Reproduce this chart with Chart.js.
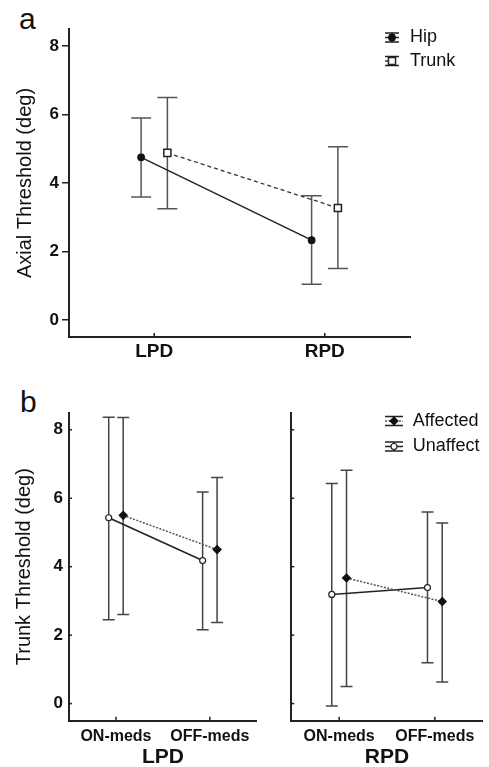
<!DOCTYPE html>
<html>
<head>
<meta charset="utf-8">
<script src="https://cdn.jsdelivr.net/npm/chart.js@4.4.1/dist/chart.umd.min.js"></script>
<style>
    html, body {
        margin: 0;
        padding: 0;
        background: #fff;
        overflow: hidden;
    }

    body {
        width: 489px;
        height: 767px;
        position: relative;
        font-family: "Liberation Sans", Arial, sans-serif;
    }

    canvas {
        position: absolute;
    }

    .letraPainel {
        position: absolute;
        font: 30px "Liberation Sans", Arial, sans-serif;
        line-height: 1;
        color: #111;
    }
</style>
</head>
<body>

<div class="letraPainel" style="left:19px; top:4px;">a</div>
<div class="letraPainel" style="left:20px; top:387px;">b</div>

<canvas id="graficoAxial" width="489" height="370" style="left:0; top:0;"></canvas>
<canvas id="graficoLPD" width="262" height="400" style="left:0; top:370px;"></canvas>
<canvas id="graficoRPD" width="227" height="400" style="left:262px; top:370px;"></canvas>

<script>
/* ==========================================================================
   Limiares axiais (a) e de tronco por medicação (b)
   ========================================================================== */

// --- dados -----------------------------------------------------------------

const grupos = ["LPD", "RPD"];
const estadosMedicacao = ["ON-meds", "OFF-meds"];
const ticksY = [0, 2, 4, 6, 8];

// painel a
const hipMedia = [4.75, 2.33];
const hipInferior = [3.59, 1.04];
const hipSuperior = [5.90, 3.63];

const trunkMedia = [4.88, 3.27];
const trunkInferior = [3.25, 1.50];
const trunkSuperior = [6.50, 5.06];

// painel b - LPD
const lpdAfetadoMedia = [5.50, 4.50];
const lpdAfetadoInferior = [2.60, 2.37];
const lpdAfetadoSuperior = [8.36, 6.61];

const lpdNaoAfetadoMedia = [5.43, 4.18];
const lpdNaoAfetadoInferior = [2.45, 2.16];
const lpdNaoAfetadoSuperior = [8.37, 6.18];

// painel b - RPD
const rpdAfetadoMedia = [3.67, 2.98];
const rpdAfetadoInferior = [0.50, 0.63];
const rpdAfetadoSuperior = [6.82, 5.28];

const rpdNaoAfetadoMedia = [3.19, 3.39];
const rpdNaoAfetadoInferior = [-0.07, 1.19];
const rpdNaoAfetadoSuperior = [6.43, 5.60];

// --- estilo ----------------------------------------------------------------

const FONTE = "'Liberation Sans', Arial, sans-serif";
const COR_TEXTO = "#111";
const COR_EIXO = "#222";
const DESLOCAMENTO = 0.077;

Chart.defaults.font.family = FONTE;
Chart.defaults.color = COR_TEXTO;

// --- plugins ---------------------------------------------------------------

const pluginBarrasErro = {
    id: "barrasErro",
    beforeDatasetsDraw(chart) {
        const ctx = chart.ctx;
        const escalaX = chart.scales.x;
        const escalaY = chart.scales.y;

        chart.data.datasets.forEach(ds => {
            if (!ds.erroInferior) return;

            const meia = ds.larguraCap / 2;

            ctx.save();
            ctx.strokeStyle = ds.corErro;
            ctx.lineWidth = 1.5;

            ds.data.forEach((p, j) => {
                const px = escalaX.getPixelForValue(p.x);
                const yi = escalaY.getPixelForValue(ds.erroInferior[j]);
                const ys = escalaY.getPixelForValue(ds.erroSuperior[j]);

                ctx.beginPath();
                ctx.moveTo(px, yi);
                ctx.lineTo(px, ys);
                ctx.moveTo(px - meia, yi);
                ctx.lineTo(px + meia, yi);
                ctx.moveTo(px - meia, ys);
                ctx.lineTo(px + meia, ys);
                ctx.stroke();
            });

            ctx.restore();
        });
    }
};

const pluginTicksInternos = {
    id: "ticksInternos",
    afterDraw(chart, args, opts) {
        const ctx = chart.ctx;
        const area = chart.chartArea;

        ctx.save();
        ctx.strokeStyle = COR_EIXO;
        ctx.lineWidth = 1.5;

        if (opts.x) {
            chart.scales.x.ticks.forEach(t => {
                const px = chart.scales.x.getPixelForValue(t.value);
                ctx.beginPath();
                ctx.moveTo(px, area.bottom);
                ctx.lineTo(px, area.bottom - opts.x);
                ctx.stroke();
            });
        }

        if (opts.y) {
            chart.scales.y.ticks.forEach(t => {
                const py = chart.scales.y.getPixelForValue(t.value);
                ctx.beginPath();
                ctx.moveTo(area.left, py);
                ctx.lineTo(area.left + opts.y, py);
                ctx.stroke();
            });
        }

        ctx.restore();
    }
};

const pluginLegendaErro = {
    id: "legendaErro",
    afterDraw(chart, args, opts) {
        if (!opts.linhas) return;

        const ctx = chart.ctx;
        const x0 = opts.xSimbolo;
        const x1 = opts.xSimbolo + opts.larguraSimbolo;
        const cx = (x0 + x1) / 2;
        const h = opts.meiaAltura;

        chart.data.datasets.forEach((ds, i) => {
            const y = opts.linhas[i];

            ctx.save();
            ctx.strokeStyle = COR_EIXO;
            ctx.lineWidth = 1.5;

            ctx.beginPath();
            ctx.moveTo(x0, y - h);
            ctx.lineTo(x1, y - h);
            ctx.moveTo(x0, y + h);
            ctx.lineTo(x1, y + h);
            ctx.moveTo(cx, y - h);
            ctx.lineTo(cx, y + h);
            ctx.stroke();

            ctx.setLineDash(ds.borderDash || []);
            ctx.strokeStyle = ds.borderColor;
            ctx.beginPath();
            ctx.moveTo(x0, y);
            ctx.lineTo(x1, y);
            ctx.stroke();
            ctx.setLineDash([]);

            ctx.fillStyle = ds.pointBackgroundColor;
            ctx.strokeStyle = ds.pointBorderColor;
            ctx.lineWidth = ds.pointBorderWidth;
            Chart.helpers.drawPoint(ctx, {
                pointStyle: ds.pointStyle,
                radius: ds.pointRadius,
                rotation: 0,
                borderWidth: ds.pointBorderWidth
            }, cx, y);

            ctx.fillStyle = COR_TEXTO;
            ctx.font = "18px " + FONTE;
            ctx.textAlign = "left";
            ctx.textBaseline = "middle";
            ctx.fillText(ds.label, opts.xTexto, y);

            ctx.restore();
        });
    }
};

// --- montagem --------------------------------------------------------------

function montarSerie(rotulo, categorias, medias, inferior, superior, desloc, estilo) {
    return Object.assign({
        label: rotulo,
        data: categorias.map((_, i) => ({ x: i + desloc, y: medias[i] })),
        erroInferior: inferior,
        erroSuperior: superior,
        borderWidth: 1.5,
        pointBorderWidth: 1.2,
        pointHoverRadius: 0,
        fill: false,
        tension: 0,
        clip: false
    }, estilo);
}

function escalaX(categorias, altura, fonteTick, padTick, titulo) {
    return {
        type: "linear",
        min: -0.5,
        max: 1.5,
        afterBuildTicks: s => {
            s.ticks = categorias.map((_, i) => ({ value: i }));
        },
        afterFit: s => {
            s.height = altura;
        },
        grid: { display: false, drawTicks: false },
        border: { display: true, color: COR_EIXO, width: 2 },
        ticks: {
            callback: v => categorias[v] ?? "",
            font: fonteTick,
            color: COR_TEXTO,
            padding: padTick,
            autoSkip: false,
            maxRotation: 0
        },
        title: titulo
            ? {
                display: true,
                text: titulo,
                font: { size: 21, weight: "bold", lineHeight: 1.2 },
                color: COR_TEXTO,
                padding: { top: 0, bottom: 0 }
            }
            : { display: false }
    };
}

function escalaY(largura, opcoes) {
    return Object.assign({
        min: -0.5,
        max: 8.5,
        afterBuildTicks: s => {
            s.ticks = ticksY.map(v => ({ value: v }));
        },
        afterFit: s => {
            s.width = largura;
        },
        border: { display: true, color: COR_EIXO, width: 2 }
    }, opcoes);
}

function criarGrafico(canvasId, datasets, padding, scales, plugins) {
    const canvas = document.getElementById(canvasId);
    if (!canvas) return;

    return new Chart(canvas, {
        type: "line",
        data: { datasets },
        options: {
            responsive: false,
            animation: false,
            events: [],
            layout: { padding },
            plugins: Object.assign({
                legend: { display: false },
                tooltip: { enabled: false }
            }, plugins),
            scales
        },
        plugins: [pluginBarrasErro, pluginTicksInternos, pluginLegendaErro]
    });
}

// painel a
criarGrafico("graficoAxial", [
    montarSerie("Hip", grupos, hipMedia, hipInferior, hipSuperior, -DESLOCAMENTO, {
        borderColor: "#222",
        pointStyle: "circle",
        pointRadius: 3.3,
        pointBackgroundColor: "#111",
        pointBorderColor: "#111",
        larguraCap: 20,
        corErro: "#555"
    }),
    montarSerie("Trunk", grupos, trunkMedia, trunkInferior, trunkSuperior, DESLOCAMENTO, {
        borderColor: "#333",
        borderDash: [4, 3],
        borderWidth: 1.3,
        pointStyle: "rect",
        pointRadius: 5,
        pointBackgroundColor: "#fff",
        pointBorderColor: "#222",
        pointBorderWidth: 1.5,
        larguraCap: 20,
        corErro: "#555"
    })
], { left: 0, top: 29, right: 79, bottom: 0 }, {
    x: escalaX(grupos, 33, { size: 19, weight: "bold" }, 3, null),
    y: escalaY(69, {
        grid: {
            display: true,
            drawOnChartArea: false,
            drawTicks: true,
            tickLength: 7,
            color: COR_EIXO,
            lineWidth: 1.5
        },
        ticks: { font: { size: 17, weight: "bold" }, color: COR_TEXTO, padding: 3 },
        title: {
            display: true,
            text: "Axial Threshold (deg)",
            font: { size: 20 },
            color: COR_TEXTO,
            padding: { top: 13, bottom: 0 }
        }
    })
}, {
    ticksInternos: { x: 4 },
    legendaErro: {
        xSimbolo: 385,
        larguraSimbolo: 14,
        xTexto: 410,
        meiaAltura: 4.5,
        linhas: [37.5, 61]
    }
});

// painel b
function seriesMedicacao(afMedia, afInf, afSup, naoMedia, naoInf, naoSup) {
    return [
        montarSerie("Affected", estadosMedicacao, afMedia, afInf, afSup, DESLOCAMENTO, {
            borderColor: "#555",
            borderDash: [2, 1.5],
            pointStyle: "rectRot",
            pointRadius: 4,
            pointBackgroundColor: "#111",
            pointBorderColor: "#111",
            larguraCap: 12,
            corErro: "#444"
        }),
        montarSerie("Unaffect", estadosMedicacao, naoMedia, naoInf, naoSup, -DESLOCAMENTO, {
            borderColor: "#222",
            pointStyle: "circle",
            pointRadius: 3,
            pointBackgroundColor: "#fff",
            pointBorderColor: "#222",
            larguraCap: 12,
            corErro: "#444"
        })
    ];
}

criarGrafico("graficoLPD",
    seriesMedicacao(lpdAfetadoMedia, lpdAfetadoInferior, lpdAfetadoSuperior,
        lpdNaoAfetadoMedia, lpdNaoAfetadoInferior, lpdNaoAfetadoSuperior),
    { left: 0, top: 42.7, right: 1, bottom: 0 }, {
        x: escalaX(estadosMedicacao, 49.3, { size: 16, weight: "bold" }, 6, "LPD"),
        y: escalaY(69, {
            grid: { display: false, drawTicks: false },
            ticks: { font: { size: 17, weight: "bold" }, color: COR_TEXTO, padding: 6 },
            title: {
                display: true,
                text: "Trunk Threshold (deg)",
                font: { size: 20 },
                color: COR_TEXTO,
                padding: { top: 12, bottom: 0 }
            }
        })
    }, {
        ticksInternos: { x: 4, y: 3 }
    });

criarGrafico("graficoRPD",
    seriesMedicacao(rpdAfetadoMedia, rpdAfetadoInferior, rpdAfetadoSuperior,
        rpdNaoAfetadoMedia, rpdNaoAfetadoInferior, rpdNaoAfetadoSuperior),
    { left: 0, top: 42.7, right: 6.3, bottom: 0 }, {
        x: escalaX(estadosMedicacao, 49.3, { size: 16, weight: "bold" }, 6, "RPD"),
        y: escalaY(29.3, {
            grid: { display: false, drawTicks: false },
            ticks: { display: false },
            title: { display: false }
        })
    }, {
        ticksInternos: { x: 4, y: 3 },
        legendaErro: {
            xSimbolo: 123,
            larguraSimbolo: 18,
            xTexto: 150.7,
            meiaAltura: 4.5,
            linhas: [51, 76.5]
        }
    });
</script>
</body>
</html>
